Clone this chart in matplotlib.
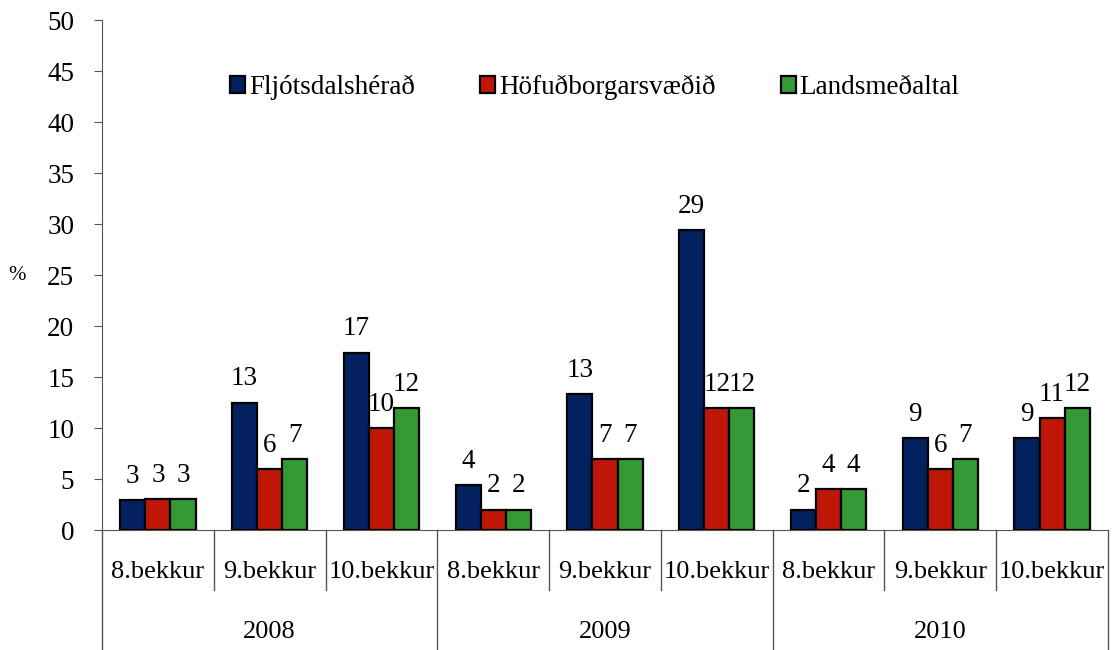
import numpy as np
import matplotlib.pyplot as plt
import matplotlib.transforms as mtransforms

plt.rcParams['font.family'] = ['Liberation Serif', 'DejaVu Serif']

grades = ['8.bekkur', '9.bekkur', '10.bekkur'] * 3
years = ['2008', '2009', '2010']
series_names = ['Fljótsdalshérað', 'Höfuðborgarsvæðið', 'Landsmeðaltal']
fljotsdalsherad = [2.9, 12.5, 17.4, 4.4, 13.3, 29.4, 2.0, 9.0, 9.0]
hofudborgarsvaedid = [3.0, 6.0, 10.0, 2.0, 7.0, 12.0, 4.0, 6.0, 11.0]
landsmedaltal = [3.0, 7.0, 12.0, 2.0, 7.0, 12.0, 4.0, 7.0, 12.0]
colors = ['#03205F', '#BE1708', '#349A35']

fig = plt.figure(figsize=(11.15, 6.5), dpi=100)
ax = fig.add_axes([0.0915, 0.1846, 0.9022, 0.7846])

x = np.arange(len(grades))
w = 0.225
for i, (vals, name, c) in enumerate(zip([fljotsdalsherad, hofudborgarsvaedid, landsmedaltal], series_names, colors)):
    pos = x + (i - 1) * w
    ax.bar(pos, vals, w, color=c, edgecolor='black', linewidth=1.6, label=name, zorder=3)
    for px, v in zip(pos, vals):
        ax.annotate(str(int(v + 0.5)), (px, v), xytext=(0, 8), textcoords='offset points',
                    ha='center', va='bottom', fontsize=19.5)

ax.set_xlim(-0.5, len(grades) - 0.5)
ax.set_ylim(0, 50)
ax.set_yticks(range(0, 51, 5))
ax.tick_params(axis='y', labelsize=19.5, direction='out', length=6, color='#555555', pad=14)
ax.set_xticks([])
ax.spines['top'].set_visible(False)
ax.spines['right'].set_visible(False)
ax.spines['left'].set_color('#555555')
ax.spines['bottom'].set_color('#555555')

ax.text(-0.085, 0.5, '%', transform=ax.transAxes, fontsize=15, ha='center', va='center')

# category axis with two levels
trans = mtransforms.blended_transform_factory(ax.transData, ax.transAxes)
for b in np.arange(-0.5, len(grades), 1.0):
    bottom = -0.235 if (b + 0.5) % 3 == 0 else -0.118
    ax.plot([b, b], [0, bottom], transform=trans, color='#555555', lw=1, clip_on=False)
for xi, g in zip(x, grades):
    ax.text(xi, -0.083, g, transform=trans, ha='center', va='center', fontsize=19)
for j, yr in enumerate(years):
    ax.text(3 * j + 1, -0.2, yr, transform=trans, ha='center', va='center', fontsize=19)

ax.legend(loc='upper center', bbox_to_anchor=(0.49, 0.94), ncol=3, frameon=False, fontsize=19.5,
          handlelength=0.55, handleheight=0.55, handletextpad=0.15, columnspacing=2.4)

fig.savefig('out.png', dpi=100)
